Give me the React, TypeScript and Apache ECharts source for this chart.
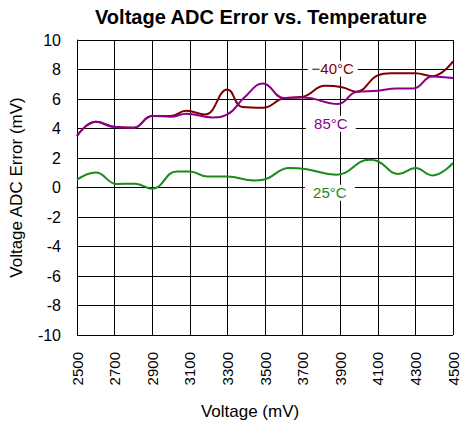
import React, { useEffect, useRef } from "react";
import * as echarts from "echarts";

const FONT = "'Liberation Sans', Arial, sans-serif";

// -40°C series
const coldVoltage = [2500, 2600, 2700, 2800, 2900, 3000, 3080, 3180, 3300, 3380, 3490, 3600, 3700, 3820, 3910, 3985, 4100, 4170, 4300, 4390, 4500];
const coldError = [3.5, 4.45, 4.1, 4.05, 4.85, 4.85, 5.2, 4.95, 6.65, 5.45, 5.4, 6.05, 6.15, 6.9, 6.8, 6.5, 7.6, 7.75, 7.75, 7.55, 8.55];

// 85°C series
const hotVoltage = [2500, 2600, 2700, 2800, 2900, 3000, 3080, 3220, 3300, 3390, 3490, 3600, 3700, 3890, 3985, 4100, 4200, 4290, 4390, 4500];
const hotError = [3.5, 4.45, 4.1, 4.05, 4.85, 4.8, 5.0, 4.75, 4.95, 6.1, 7.05, 6.07, 6.1, 5.66, 6.47, 6.56, 6.72, 6.72, 7.53, 7.42];

// 25°C series
const roomVoltage = [2500, 2600, 2710, 2810, 2900, 3030, 3100, 3190, 3300, 3440, 3490, 3630, 3715, 3880, 4055, 4100, 4210, 4300, 4390, 4500];
const roomError = [0.53, 1.02, 0.24, 0.26, -0.08, 1.09, 1.09, 0.75, 0.75, 0.48, 0.53, 1.32, 1.25, 0.87, 1.88, 1.78, 0.92, 1.32, 0.82, 1.66];

const seriesNames = ["\u221240\u00b0C", "85\u00b0C", "25\u00b0C"];
const seriesColors = ["#800000", "#8b008b", "#1a8a1a"];
// where each series label sits (voltage, error)
const labelSpots = [
  [3860, 8.05],
  [3850, 4.33],
  [3845, -0.35],
];

const pairs = (xs: number[], ys: number[]) => xs.map((x, i) => [x, ys[i]]);

const App = () => {
  const chartRef = useRef<HTMLDivElement>(null);

  useEffect(() => {
    if (!chartRef.current) return;
    document.body.style.margin = "0";
    const chart = echarts.init(chartRef.current, undefined, { renderer: "svg" });

    const datasets = [
      pairs(coldVoltage, coldError),
      pairs(hotVoltage, hotError),
      pairs(roomVoltage, roomError),
    ];

    chart.setOption({
      animation: false,
      backgroundColor: "#fff",
      title: {
        text: "Voltage ADC Error vs. Temperature",
        left: 90,
        top: 2,
        textStyle: { fontFamily: FONT, fontSize: 20, fontWeight: "bold", color: "#000" },
      },
      grid: { left: 71, right: 8, top: 40, bottom: 92, containLabel: false },
      xAxis: {
        type: "value",
        min: 2500,
        max: 4500,
        interval: 200,
        name: "Voltage (mV)",
        nameLocation: "middle",
        nameGap: 68,
        nameTextStyle: { fontFamily: FONT, fontSize: 17, color: "#000", padding: [0, 30, 0, 0] },
        axisLine: { show: true, lineStyle: { color: "#000", width: 1 } },
        axisTick: { show: false },
        axisLabel: {
          rotate: 90,
          margin: 17,
          fontFamily: FONT,
          fontSize: 15,
          color: "#000",
          formatter: (v: number) => String(v),
        },
        splitLine: { show: true, lineStyle: { color: "#000", width: 1 } },
      },
      yAxis: {
        type: "value",
        min: -10,
        max: 10,
        interval: 2,
        name: "Voltage ADC Error (mV)",
        nameLocation: "middle",
        nameGap: 52,
        nameTextStyle: { fontFamily: FONT, fontSize: 17, color: "#000" },
        axisLine: { show: true, lineStyle: { color: "#000", width: 1 } },
        axisTick: { show: false },
        axisLabel: { margin: 16, fontFamily: FONT, fontSize: 16, color: "#000" },
        splitLine: { show: true, lineStyle: { color: "#000", width: 1 } },
      },
      series: datasets.map((data, i) => ({
        name: seriesNames[i],
        type: "line",
        data,
        smooth: 0.45,
        symbol: "none",
        lineStyle: { color: seriesColors[i], width: 2 },
        itemStyle: { color: seriesColors[i] },
        markPoint: {
          symbol: "rect",
          symbolSize: [50, 16],
          itemStyle: { color: "#fff" },
          label: {
            show: true,
            position: "inside",
            formatter: seriesNames[i],
            fontFamily: FONT,
            fontSize: 15,
            color: seriesColors[i],
          },
          data: [{ coord: labelSpots[i] }],
        },
      })),
    });

    return () => {
      chart.dispose();
    };
  }, []);

  return <div ref={chartRef} style={{ width: 461, height: 427 }} />;
};

export default App;
